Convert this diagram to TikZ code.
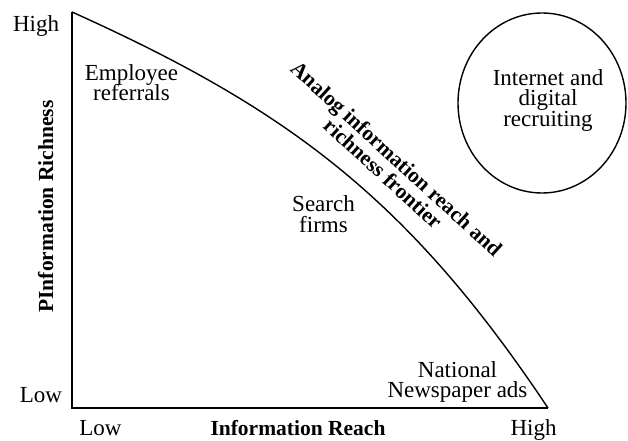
\documentclass[tikz,border=0pt]{standalone}
\usepackage{fontspec}
\setmainfont{Liberation Serif}
\newcommand\mynolsl{\lineskiplimit=-100pt\relax}
\begin{document}
\begin{tikzpicture}[x=1bp,y=-1bp,
  lbl/.style={font={\fontsize{23bp}{20.5bp}\selectfont\mynolsl}, inner sep=0pt, align=center},
  blbl/.style={font={\fontsize{21.5bp}{20bp}\selectfont\bfseries\mynolsl}, inner sep=0pt, align=center},
  axisline/.style={line width=1.4bp, line join=miter},
  frontier/.style={line width=1.4bp},
  bubble/.style={line width=1.4bp},
]
\useasboundingbox (0,0) rectangle (628,441);
% axes
\coordinate (top) at (72,12);
\coordinate (origin) at (72,408);
\coordinate (right) at (548,408);
\draw[axisline] (top) -- (origin) -- (right);
% frontier curve
\draw[frontier] (top) .. controls (287,108.75) and (408,198) .. (right);
% circle
\draw[bubble] (542,103) ellipse [x radius=84, y radius=90];
% axis labels
\node[lbl, anchor=base] (yhigh) at (36,32) {High};
\node[lbl, anchor=base] (ylow) at (41,402) {Low};
\node[lbl, anchor=base] (xlow) at (100.5,435) {Low};
\node[lbl, anchor=base] (xhigh) at (533.5,435) {High};
\node[blbl, anchor=base] (xtitle) at (298,435) {Information Reach};
\node[blbl, anchor=base, rotate=90] (ytitle) at (53,206.5) {PInformation Richness};
% content labels
\node[lbl] (employee) at (131.5,82.7) {Employee\\referrals};
\node[lbl] (search) at (323.5,214.2) {Search\\firms};
\node[lbl] (national) at (457.5,382) {National\\Newspaper ads};
\node[lbl] (internet) at (548,100.2) {Internet and\\digital\\recruiting};
\node[blbl, rotate=-42.5] (frontlabel) at (390,166) {Analog information reach and\\richness frontier};
\end{tikzpicture}
\end{document}
